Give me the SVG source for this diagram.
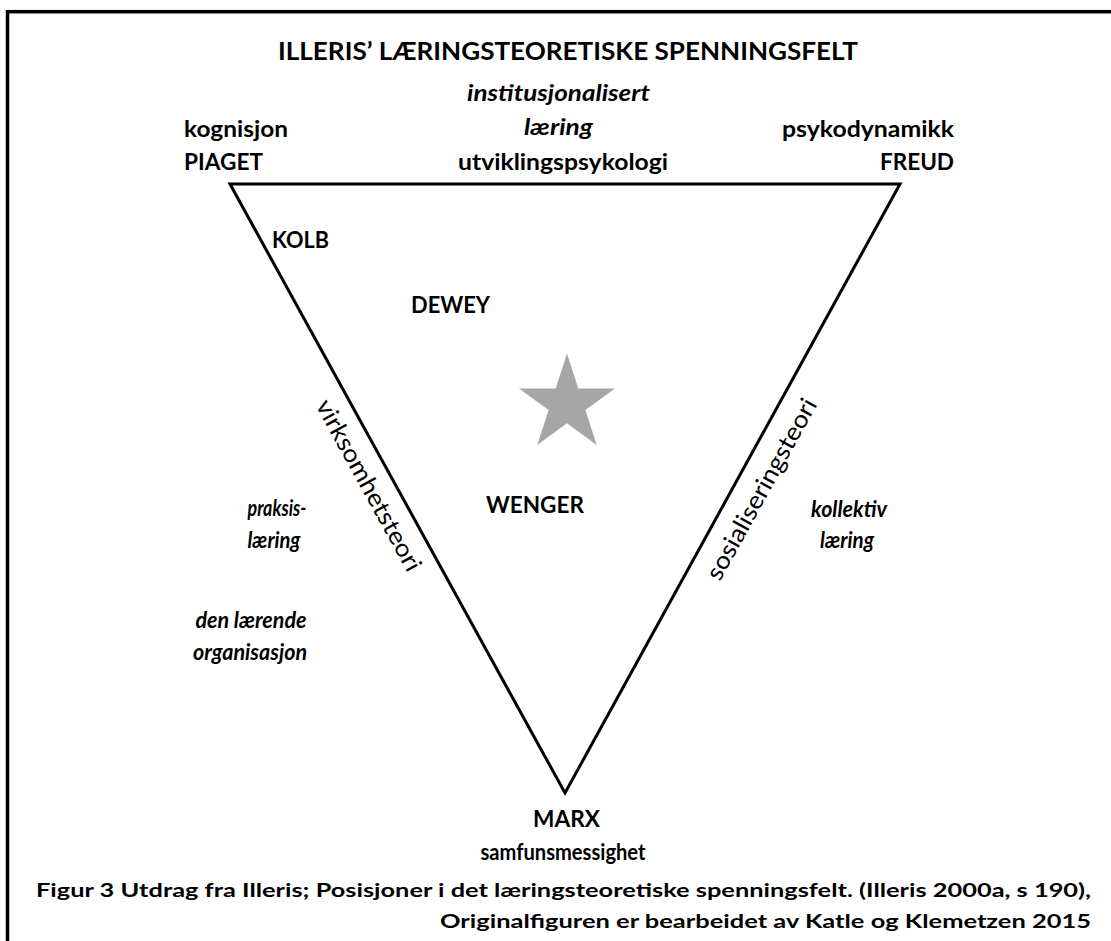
<svg xmlns="http://www.w3.org/2000/svg" width="1111" height="941" viewBox="0 0 1111 941">
  <style>
    text { font-family: Lato, "Liberation Sans", sans-serif; fill: #000; }
    .b { font-weight: bold; font-size: 23.5px; }
    .bi { font-weight: bold; font-style: italic; font-size: 23.5px; }
    .title { font-weight: bold; font-size: 25px; }
    .edge { font-weight: normal; font-size: 24.5px; }
    .cap { font-weight: bold; font-size: 19.5px; }
    .frame { fill: none; stroke: #000; stroke-width: 3.5; }
    .tri { fill: #fff; stroke: #000; stroke-width: 3; stroke-linejoin: miter; }
  </style>

  <rect width="1111" height="941" fill="#fff"/>
  <!-- outer frame, right and bottom sides run off the page -->
  <rect class="frame" x="7.5" y="11.7" width="1110" height="940"/>

  <g id="title">
    <text class="title" x="568" y="60" text-anchor="middle" textLength="580" lengthAdjust="spacingAndGlyphs">ILLERIS’ LÆRINGSTEORETISKE SPENNINGSFELT</text>
  </g>

  <g id="connectors">
    <polygon class="tri" points="230,184 900,184 565,793"/>
  </g>

  <g id="edge-left">
    <text class="edge" transform="translate(230,184) rotate(61.19)" x="331" y="32" text-anchor="middle" textLength="192" lengthAdjust="spacingAndGlyphs">virksomhetsteori</text>
  </g>
  <g id="edge-right">
    <text class="edge" transform="translate(565,793) rotate(-61.19)" x="361" y="34" text-anchor="middle" textLength="203" lengthAdjust="spacingAndGlyphs">sosialiseringsteori</text>
  </g>

  <g id="corner-piaget">
    <text class="b" x="184" y="137" textLength="104" lengthAdjust="spacingAndGlyphs">kognisjon</text>
    <text class="b" x="184" y="170" textLength="79" lengthAdjust="spacingAndGlyphs">PIAGET</text>
  </g>

  <g id="top-middle">
    <text class="bi" x="558.5" y="101" text-anchor="middle" textLength="183" lengthAdjust="spacingAndGlyphs">institusjonalisert</text>
    <text class="bi" x="558.5" y="135" text-anchor="middle" textLength="69" lengthAdjust="spacingAndGlyphs">læring</text>
    <text class="b" x="563" y="170" text-anchor="middle" textLength="210" lengthAdjust="spacingAndGlyphs">utviklingspsykologi</text>
  </g>

  <g id="corner-freud">
    <text class="b" x="954" y="137" text-anchor="end" textLength="172" lengthAdjust="spacingAndGlyphs">psykodynamikk</text>
    <text class="b" x="954" y="170" text-anchor="end" textLength="74" lengthAdjust="spacingAndGlyphs">FREUD</text>
  </g>

  <g id="kolb">
    <text class="b" x="272" y="248" textLength="57" lengthAdjust="spacingAndGlyphs">KOLB</text>
  </g>
  <g id="dewey">
    <text class="b" x="411" y="313" textLength="79" lengthAdjust="spacingAndGlyphs">DEWEY</text>
  </g>

  <g id="star">
    <polygon fill="#a6a6a6" points="567,353.5 578.3,388.4 615,388.4 585.4,410 596.7,444.9 567,423.3 537.3,444.9 548.6,410 519,388.4 555.7,388.4"/>
  </g>

  <g id="wenger">
    <text class="b" x="486" y="513" textLength="98" lengthAdjust="spacingAndGlyphs">WENGER</text>
  </g>

  <g id="praksislaering">
    <text class="bi" x="277" y="516" text-anchor="middle" textLength="59" lengthAdjust="spacingAndGlyphs">praksis-</text>
    <text class="bi" x="274" y="548" text-anchor="middle" textLength="53" lengthAdjust="spacingAndGlyphs">læring</text>
  </g>

  <g id="organisasjon">
    <text class="bi" x="251" y="628" text-anchor="middle" textLength="111" lengthAdjust="spacingAndGlyphs">den lærende</text>
    <text class="bi" x="250" y="660" text-anchor="middle" textLength="114" lengthAdjust="spacingAndGlyphs">organisasjon</text>
  </g>

  <g id="kollektiv">
    <text class="bi" x="849" y="517" text-anchor="middle" textLength="76" lengthAdjust="spacingAndGlyphs">kollektiv</text>
    <text class="bi" x="847" y="548" text-anchor="middle" textLength="54" lengthAdjust="spacingAndGlyphs">læring</text>
  </g>

  <g id="corner-marx">
    <text class="b" x="566.5" y="827" text-anchor="middle" textLength="67" lengthAdjust="spacingAndGlyphs">MARX</text>
    <text class="b" x="563" y="860" text-anchor="middle" textLength="165" lengthAdjust="spacingAndGlyphs">samfunsmessighet</text>
  </g>

  <g id="caption">
    <text class="cap" x="1091" y="897" text-anchor="end" textLength="1055" lengthAdjust="spacingAndGlyphs">Figur 3 Utdrag fra Illeris; Posisjoner i det læringsteoretiske spenningsfelt. (Illeris 2000a, s 190),</text>
    <text class="cap" x="1091" y="928" text-anchor="end" textLength="651" lengthAdjust="spacingAndGlyphs">Originalfiguren er bearbeidet av Katle og Klemetzen 2015</text>
  </g>
</svg>
